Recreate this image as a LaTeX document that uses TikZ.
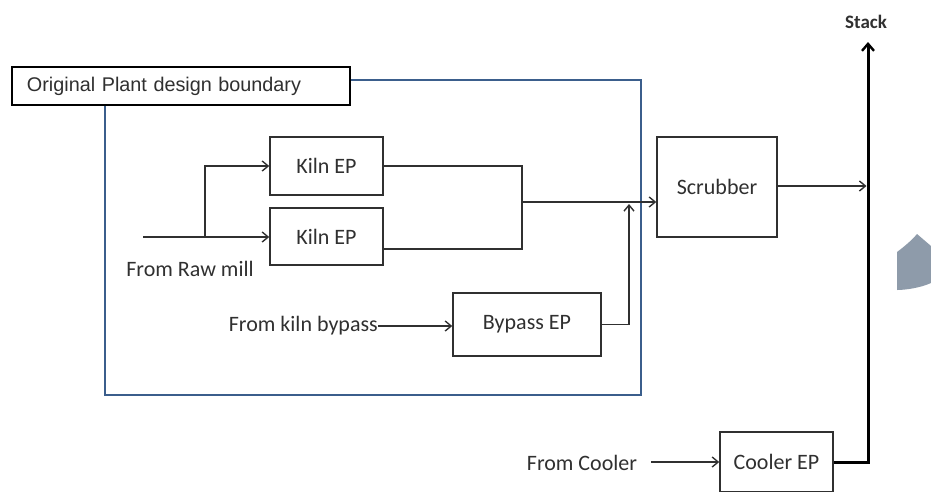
\documentclass[tikz,border=0pt]{standalone}
\usepackage{fontspec}
\setmainfont{Carlito}
\newfontfamily\arialf{Liberation Sans}
\usetikzlibrary{arrows.meta}
\definecolor{bnd}{HTML}{3B5E8C}
\definecolor{ink}{HTML}{303030}
\definecolor{blob}{HTML}{8E9BAA}
\begin{document}
\begin{tikzpicture}[x=1pt,y=-1pt,
  box/.style={draw=ink,line width=1.5pt,fill=white,font=\fontsize{22}{26}\selectfont,text=ink,inner sep=0pt},
  conn/.style={draw=ink,line width=1.4pt},
  arr/.style={conn,-{Straight Barb[length=6pt,width=10pt,line width=1.4pt]}},
  heavy/.style={draw=black,line width=3pt,-{Straight Barb[length=7pt,width=12pt,line width=2.4pt]}},
  lbl/.style={font=\fontsize{22}{26}\selectfont,text=ink,inner sep=0pt}]
\useasboundingbox (0,0) rectangle (931,491);
\clip (0,0) rectangle (931,491);
% boundary
\node[draw=bnd,line width=2.2pt,minimum width=536,minimum height=315,inner sep=0pt] (boundary) at (373,237.5) {};
\node[draw=black,line width=1.4pt,fill=white,minimum height=38,inner xsep=15pt,inner ysep=0pt,
  text width=308,align=left,font=\arialf\fontsize{19.8}{22}\selectfont,text=ink] (blabel) at (181,86) {Original Plant design boundary};
% boxes
\node[box,minimum width=113,minimum height=58] (kiln1) at (326.5,166) {Kiln EP};
\node[box,minimum width=113,minimum height=57] (kiln2) at (326.5,236.5) {Kiln EP};
\node[box,minimum width=148,minimum height=63] (bypass) at (527,324.5) {Bypass EP};
\node[box,minimum width=120,minimum height=100] (scrub) at (717,187) {Scrubber};
\node[box,minimum width=113,minimum height=60] (cooler) at (776.5,462) {Cooler EP};
% labels
\node[lbl] (raw) at (190,269) {From Raw mill};
\node[lbl,anchor=east] (bptxt) at (378,326) {From kiln bypass};
\node[lbl] (cooltxt) at (582,463) {From Cooler};
\node[lbl,font=\bfseries\fontsize{19}{22}\selectfont] (stack) at (866,22) {Stack};
% coordinates
\coordinate (rawin) at (143,237);
\coordinate (split) at (205,237);
\coordinate (mx) at (522,202);
\coordinate (bj) at (629,204);
\coordinate (sx) at (866.5,186);
\coordinate (stacktop) at (868,42);
\coordinate (cin) at (651,462);
% connectors
\draw[conn] (rawin) -- (split);
\draw[arr] (split) -- (split -| kiln2.west);
\draw[arr] (split) |- (kiln1.west);
\draw[conn] (kiln1.east) -| (mx);
\draw[conn] ([yshift=-12.5pt]kiln2.east) -| (mx);
\draw[arr] (mx) -- (mx -| scrub.west);
\draw[arr] (bptxt.east) -- (bptxt.east -| bypass.west);
\draw[arr] (bypass.east) -| (bj);
\draw[arr] (sx -| scrub.east) -- (sx);
\draw[arr] (cin) -- (cin -| cooler.west);
\draw[heavy] (cooler.east) -| (stacktop);
% decorative shape
\fill[blob] (897,252) .. controls (905,246) and (912,240) .. (917,234) -- (931,246) -- (931,283) .. controls (920,288) and (905,290) .. (897,290) -- cycle;
\end{tikzpicture}
\end{document}
